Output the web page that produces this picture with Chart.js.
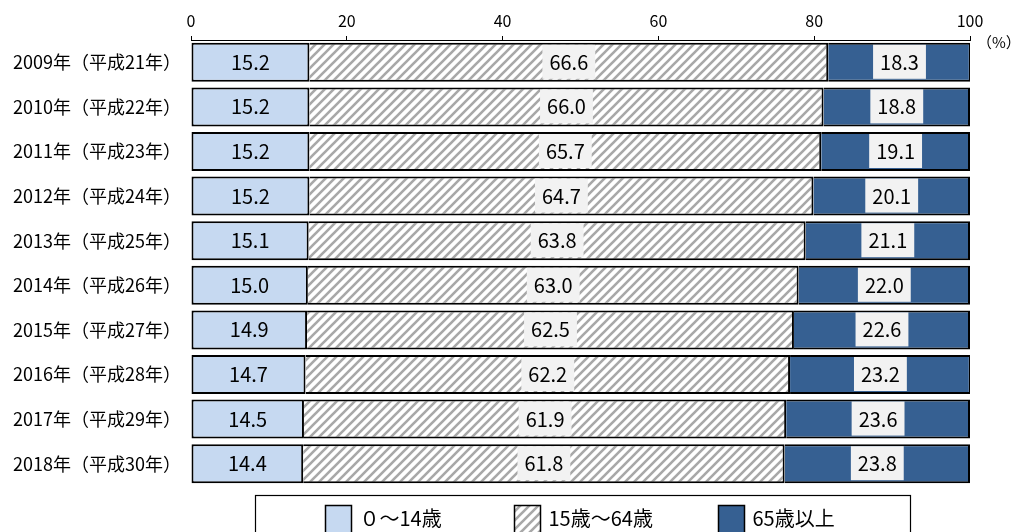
<!DOCTYPE html>
<html><head><meta charset="utf-8">
<script src="https://cdn.jsdelivr.net/npm/chart.js@4/dist/chart.umd.min.js"></script>
<style>html,body{margin:0;padding:0;background:#fff;overflow:hidden}#wrap{width:1020px;height:532px;overflow:hidden}</style>
</head><body><div id="wrap"><canvas id="c" width="1020" height="532"></canvas></div>
<script>
const categories = ['2009年（平成21年）','2010年（平成22年）','2011年（平成23年）','2012年（平成24年）','2013年（平成25年）','2014年（平成26年）','2015年（平成27年）','2016年（平成28年）','2017年（平成29年）','2018年（平成30年）'];
const age0to14  = [15.2,15.2,15.2,15.2,15.1,15.0,14.9,14.7,14.5,14.4];
const age15to64 = [66.6,66.0,65.7,64.7,63.8,63.0,62.5,62.2,61.9,61.8];
const age65plus = [18.3,18.8,19.1,20.1,21.1,22.0,22.6,23.2,23.6,23.8];
const seriesNames = ['０～14歳','15歳～64歳','65歳以上'];
const xTicks = [0,20,40,60,80,100];
const unitLabel = '（%）';

const FONT = "'Noto Sans CJK JP', 'Noto Sans', sans-serif";
Chart.defaults.font.family = FONT;
Chart.defaults.color = '#000';

function hatchPattern(){
  const s = 9;
  const c = document.createElement('canvas'); c.width = s; c.height = s;
  const g = c.getContext('2d');
  g.fillStyle = '#fff'; g.fillRect(0,0,s,s);
  g.strokeStyle = '#a8a8a8'; g.lineWidth = 2.6; g.lineCap = 'square';
  g.beginPath();
  g.moveTo(-2, s+2); g.lineTo(s+2, -2);
  g.moveTo(-2, 2); g.lineTo(2, -2);
  g.moveTo(s-2, s+2); g.lineTo(s+2, s-2);
  g.stroke();
  return document.getElementById('c').getContext('2d').createPattern(c, 'repeat');
}
const hatch = hatchPattern();

const labelPlugin = {
  id: 'valueLabels',
  afterDatasetsDraw(chart){
    const ctx = chart.ctx;
    ctx.save();
    ctx.font = '20px ' + FONT;
    ctx.textAlign = 'center'; ctx.textBaseline = 'middle';
    chart.data.datasets.forEach((ds, d) => {
      const meta = chart.getDatasetMeta(d);
      meta.data.forEach((bar, i) => {
        const txt = ds.data[i].toFixed(1);
        const cx = (bar.x + bar.base) / 2, cy = bar.y;
        const w = ctx.measureText(txt).width;
        const h = bar.height;
        if (d > 0) {
          ctx.fillStyle = '#f2f2f2';
          ctx.fillRect(cx - w/2 - 7, cy - h/2 + 2, w + 14, h - 5);
        }
        ctx.fillStyle = '#000';
        ctx.fillText(txt, cx, cy);
      });
    });
    ctx.restore();
  }
};

const decorPlugin = {
  id: 'decor',
  afterDraw(chart){
    const ctx = chart.ctx, a = chart.chartArea;
    ctx.save();
    ctx.font = '15px ' + FONT; ctx.fillStyle = '#000';
    ctx.textAlign = 'left'; ctx.textBaseline = 'middle';
    ctx.fillText(unitLabel, a.right + 7, a.top + 2);
    const cx = (a.left + a.right) / 2 + 2;
    const fw = 655, fl = Math.round(cx - fw/2) + 0.5, ft = Math.round(a.bottom + 9) + 0.5;
    ctx.strokeStyle = '#000'; ctx.lineWidth = 1.2;
    ctx.strokeRect(fl, ft, fw, 60);
    const offs = [70, 259, 463];
    ctx.font = '20px ' + FONT;
    chart.data.datasets.forEach((ds, d) => {
      const bx = fl + offs[d], by = ft + 10;
      ctx.fillStyle = ds.backgroundColor;
      ctx.fillRect(bx, by, 26, 30);
      ctx.lineWidth = 1.5; ctx.strokeStyle = '#000';
      ctx.strokeRect(bx, by, 26, 30);
      ctx.fillStyle = '#000';
      ctx.fillText(ds.label, bx + 34, ft + 23);
    });
    ctx.restore();
  }
};

new Chart(document.getElementById('c'), {
  type: 'bar',
  data: {
    labels: categories,
    datasets: [
      {label: seriesNames[0], data: age0to14, backgroundColor: '#c6d9f1', borderColor: '#000', borderWidth: 2, borderSkipped: false},
      {label: seriesNames[1], data: age15to64, backgroundColor: hatch, borderColor: '#000', borderWidth: 2, borderSkipped: 'start'},
      {label: seriesNames[2], data: age65plus, backgroundColor: '#366092', borderColor: '#000', borderWidth: 2, borderSkipped: 'start'}
    ]
  },
  options: {
    responsive: false, animation: false, devicePixelRatio: 1,
    indexAxis: 'y',
    barPercentage: 0.875, categoryPercentage: 1,
    layout: {padding: {left: 12, right: 50, top: 11, bottom: 46}},
    plugins: {legend: {display: false}, tooltip: {enabled: false}},
    scales: {
      x: {
        position: 'top', stacked: true, min: 0, max: 100,
        afterBuildTicks: s => { s.ticks = xTicks.map(v => ({value: v})); },
        ticks: {font: {size: 16}, color: '#000', padding: 5, maxRotation: 0, autoSkip: false},
        grid: {drawOnChartArea: false, drawTicks: true, tickLength: 4, color: '#000'},
        border: {display: true, color: '#000', width: 1},
        afterFit: s => { s.height = 29; }
      },
      y: {
        stacked: true,
        ticks: {font: {size: 18}, color: '#000', padding: 10},
        grid: {display: false, drawTicks: false},
        border: {display: false},
        afterFit: s => { s.width = 179; }
      }
    }
  },
  plugins: [labelPlugin, decorPlugin]
});
</script>
</body></html>
